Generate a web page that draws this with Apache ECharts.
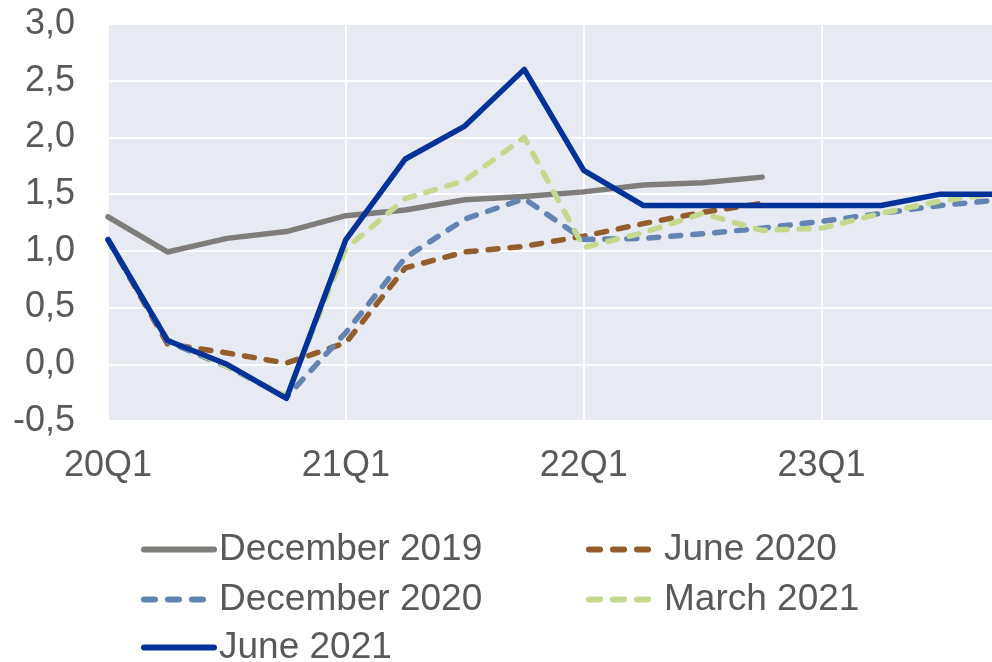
<!DOCTYPE html>
<html>
<head>
<meta charset="utf-8">
<script src="https://cdn.jsdelivr.net/npm/echarts@6/dist/echarts.min.js"></script>
<style>
  html, body { margin: 0; padding: 0; background: #fff; overflow: hidden; }
  #main { width: 1000px; height: 662px; }
</style>
</head>
<body>
<div id="main"></div>
<script type="text/javascript">
// quarters 20Q1 .. 23Q4 (the last one sits just past the right edge, as in the original)
var quarters = ['20Q1', '20Q2', '20Q3', '20Q4', '21Q1', '21Q2', '21Q3', '21Q4',
                '22Q1', '22Q2', '22Q3', '22Q4', '23Q1', '23Q2', '23Q3', '23Q4'];

var dec2019 = [1.30, 0.99, 1.11, 1.17, 1.31, 1.36, 1.45, 1.48, 1.52, 1.58, 1.60, 1.65, null, null, null, null];
var jun2020 = [1.10, 0.18, 0.10, 0.01, 0.19, 0.85, 0.99, 1.04, 1.13, 1.24, 1.34, 1.42, null, null, null, null];
var dec2020 = [1.10, 0.20, -0.02, -0.29, 0.28, 0.94, 1.28, 1.46, 1.10, 1.11, 1.15, 1.20, 1.26, 1.33, 1.40, 1.45];
var mar2021 = [1.10, 0.22, -0.02, -0.28, 1.02, 1.46, 1.62, 2.00, 1.03, 1.16, 1.33, 1.18, 1.20, 1.33, 1.44, 1.51];
var jun2021 = [1.10, 0.21, 0.00, -0.30, 1.10, 1.81, 2.10, 2.60, 1.71, 1.40, 1.40, 1.40, 1.40, 1.40, 1.50, 1.50];

var FONT = 'Liberation Sans, Arial, sans-serif';
var TXT = '#595959';

function mkSeries(name, data, color, dashed) {
    return {
        name: name,
        type: 'line',
        data: data,
        symbol: 'none',
        connectNulls: false,
        lineStyle: {
            color: color,
            width: 5.5,
            type: dashed ? [10, 12] : 'solid',
            cap: 'round',
            join: 'round'
        },
        itemStyle: { color: color }
    };
}

function mkLegend(name, left, top, dashed) {
    return {
        data: [name],
        left: left,
        top: top,
        padding: 0,
        itemWidth: 70,
        itemHeight: 14,
        textStyle: { fontFamily: FONT, fontSize: 37, color: TXT },
        itemStyle: { opacity: 0 },
        lineStyle: { width: 6, type: dashed ? [11, 13] : 'solid', cap: 'round' }
    };
}

var myChart = echarts.init(document.getElementById('main'));
var option = {
    backgroundColor: '#ffffff',
    animation: false,
    grid: {
        left: 108,
        right: 0,
        top: 24,
        bottom: 241,
        show: true,
        backgroundColor: '#e7eaf3',
        borderWidth: 0
    },
    legend: [
        mkLegend('December 2019', 141, 531, false),
        mkLegend('June 2020', 586, 531, true),
        mkLegend('December 2020', 141, 581, true),
        mkLegend('March 2021', 586, 581, true),
        mkLegend('June 2021', 141, 629, false)
    ],
    xAxis: {
        type: 'category',
        data: quarters,
        boundaryGap: false,
        axisLine: { show: false },
        axisTick: { show: false },
        axisLabel: {
            interval: 3,
            margin: 27,
            fontFamily: FONT,
            fontSize: 36,
            color: TXT
        },
        splitLine: {
            show: true,
            interval: 3,
            lineStyle: { color: '#ffffff', width: 2 }
        }
    },
    yAxis: {
        type: 'value',
        min: -0.5,
        max: 3,
        interval: 0.5,
        axisLine: { show: false },
        axisTick: { show: false },
        axisLabel: {
            margin: 33,
            fontFamily: FONT,
            fontSize: 36,
            color: TXT,
            formatter: function (v) { return v.toFixed(1).replace('.', ','); }
        },
        splitLine: { lineStyle: { color: '#ffffff', width: 2 } }
    },
    series: [
        mkSeries('December 2019', dec2019, '#7f7d7a', false),
        mkSeries('June 2020', jun2020, '#935d2c', true),
        mkSeries('December 2020', dec2020, '#6383b3', true),
        mkSeries('March 2021', mar2021, '#c4d98e', true),
        mkSeries('June 2021', jun2021, '#00329a', false)
    ]
};
myChart.setOption(option);
</script>
</body>
</html>
